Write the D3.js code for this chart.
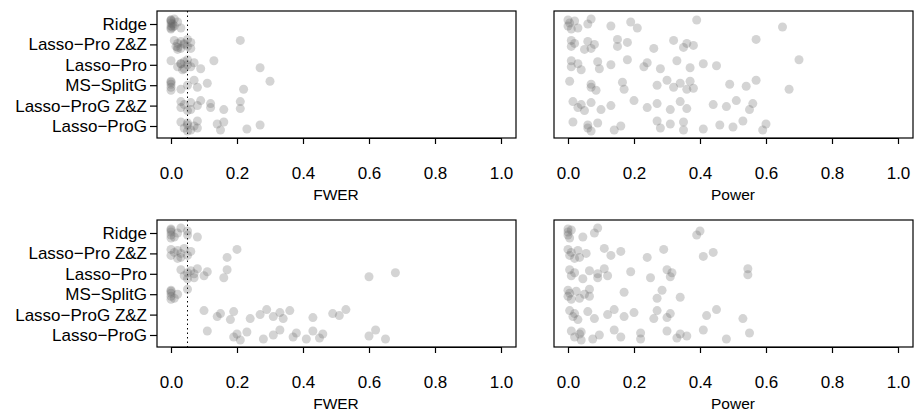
<!DOCTYPE html>
<html><head><meta charset="utf-8">
<script src="https://cdn.jsdelivr.net/npm/d3@7"></script>
<style>body{margin:0;background:#fff}svg{font-family:"Liberation Sans",Arial,sans-serif}</style>
</head><body><svg id="c" width="915" height="412"></svg>
<script>
const methods = ["Ridge","Lasso−Pro Z&Z","Lasso−Pro","MS−SplitG","Lasso−ProG Z&Z","Lasso−ProG"];
const xTicks = [0,0.2,0.4,0.6,0.8,1.0];
const fwerTop = [
 [0,0,0,0,0,0,0.005,0.01,0.01,0.02,0.03,0,0.005],
 [0.01,0.015,0.02,0.02,0.03,0.03,0.04,0.05,0.05,0.06,0.06,0.21,0.02,0.04],
 [0,0.02,0.03,0.035,0.04,0.04,0.05,0.05,0.06,0.07,0.09,0.13,0.27,0.03],
 [0,0,0,0,0,0.03,0.05,0.07,0.08,0.11,0.22,0.30],
 [0.03,0.03,0.04,0.05,0.06,0.06,0.08,0.09,0.12,0.12,0.16,0.21,0.21],
 [0.03,0.04,0.05,0.05,0.05,0.06,0.07,0.08,0.08,0.14,0.15,0.16,0.23,0.27]];
const powerTop = [
 [0,0,0.005,0.01,0.02,0.03,0.06,0.07,0.13,0.19,0.21,0.39,0.65],
 [0.01,0.01,0.02,0.05,0.06,0.07,0.08,0.15,0.15,0.18,0.26,0.32,0.35,0.36,0.38,0.57],
 [0.01,0.01,0.03,0.04,0.09,0.095,0.13,0.18,0.23,0.24,0.28,0.33,0.37,0.41,0.45,0.70],
 [0.005,0.07,0.07,0.085,0.165,0.17,0.27,0.30,0.32,0.34,0.36,0.37,0.38,0.49,0.54,0.57,0.67],
 [0.015,0.03,0.04,0.05,0.07,0.10,0.13,0.20,0.24,0.27,0.31,0.34,0.36,0.44,0.48,0.51,0.55,0.56],
 [0.015,0.06,0.06,0.07,0.09,0.14,0.16,0.27,0.28,0.31,0.35,0.35,0.41,0.46,0.50,0.53,0.59,0.60]];
const fwerBottom = [
 [0,0,0,0,0,0.01,0.02,0.03,0.05,0.05,0.08],
 [0,0,0.01,0.02,0.02,0.03,0.03,0.04,0.05,0.06,0.17,0.20],
 [0.03,0.04,0.05,0.05,0.06,0.07,0.07,0.08,0.10,0.11,0.16,0.17,0.60,0.68],
 [0,0,0,0,0,0.01,0.02,0.05],
 [0.10,0.14,0.15,0.18,0.19,0.24,0.27,0.29,0.31,0.33,0.34,0.36,0.43,0.49,0.51,0.53],
 [0.11,0.19,0.20,0.21,0.23,0.28,0.31,0.33,0.37,0.38,0.41,0.43,0.45,0.46,0.60,0.62,0.65]];
const powerBottom = [
 [0,0,0,0.005,0.01,0.045,0.08,0.09,0.39,0.40],
 [0,0.005,0.01,0.02,0.03,0.035,0.055,0.11,0.13,0.16,0.24,0.29,0.41,0.44],
 [0.005,0.01,0.02,0.045,0.065,0.09,0.09,0.11,0.12,0.19,0.25,0.30,0.31,0.315,0.545,0.545],
 [0,0,0.005,0.01,0.025,0.035,0.05,0.065,0.065,0.17,0.27,0.285,0.34],
 [0.005,0.015,0.02,0.03,0.06,0.08,0.12,0.14,0.17,0.20,0.26,0.27,0.30,0.31,0.42,0.45,0.53],
 [0.01,0.02,0.035,0.04,0.04,0.075,0.095,0.14,0.16,0.22,0.22,0.30,0.33,0.34,0.36,0.41,0.48,0.55]];
const nominalLevel = 0.05;

const svg = d3.select("#c");
const jit = [-4,2,-1,5,-3,4,0,-5,2,-2,4,-4,3,-1,1,-5,4,-2];
const FS = "17px";
function panel(data, left, top, title, showY){
  const W=359, H=127;
  const x = d3.scaleLinear().domain([0,1]).range([left+14,left+344]);
  const y = d3.scalePoint().domain(methods).range([top+13,top+H-12]);
  const g = svg.append("g");
  g.append("rect").attr("x",left).attr("y",top).attr("width",W).attr("height",H)
    .attr("fill","none").attr("stroke","#000").attr("stroke-width",1.2);
  if(showY){
    g.append("line").attr("x1",x(nominalLevel)).attr("x2",x(nominalLevel))
      .attr("y1",top).attr("y2",top+H).attr("stroke","#000").attr("stroke-dasharray","1.5,3");
    const ay = g.append("g").attr("transform",`translate(${left},0)`).call(d3.axisLeft(y).tickSize(7).tickPadding(3));
    ay.select(".domain").remove();
    ay.selectAll(".tick line").attr("stroke-width",1.2);
    ay.selectAll("text").style("font-size",FS).attr("fill","#000").attr("font-family","Liberation Sans, Arial");
  }
  const ax = g.append("g").attr("transform",`translate(0,${top+H+7})`)
    .call(d3.axisBottom(x).tickValues(xTicks).tickFormat(d3.format(".1f")).tickSize(6).tickPadding(16));
  ax.select(".domain").attr("d",`M${x(0)},0.5H${x(1)}`).attr("transform","translate(0,-7)").attr("stroke-width",1.2);
  ax.selectAll(".tick line").attr("y1",-7).attr("y2",-1).attr("stroke-width",1.2);
  ax.selectAll("text").style("font-size",FS).attr("fill","#000").attr("font-family","Liberation Sans, Arial");
  g.append("text").attr("x",x(0.5)).attr("y",top+H+62).attr("text-anchor","middle")
    .style("font-size","15.5px").text(title);
  data.forEach((vals,i)=>{
    g.selectAll(null).data(vals).enter().append("circle")
      .attr("cx",d=>x(d)).attr("cy",(d,j)=>y(methods[i])+jit[j%jit.length])
      .attr("r",4.5).attr("fill","#666").attr("fill-opacity",0.28);
  });
}
panel(fwerTop,157,11,"FWER",true);
panel(powerTop,554,11,"Power",false);
panel(fwerBottom,157,220,"FWER",true);
panel(powerBottom,554,220,"Power",false);
</script></body></html>
